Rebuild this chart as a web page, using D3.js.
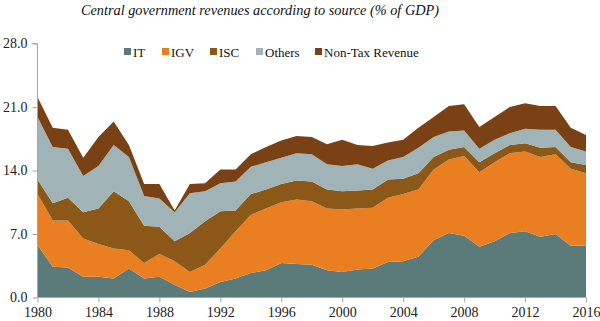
<!DOCTYPE html>
<html>
<head>
<meta charset="utf-8">
<script src="https://cdn.jsdelivr.net/npm/d3@7"></script>
<style>
  html, body { margin: 0; padding: 0; background: #fff; }
  svg { display: block; }
  text { font-family: "Liberation Serif", "Times New Roman", Tinos, "DejaVu Serif", serif; }
  .axis text { font-size: 14px; fill: #222; }
</style>
</head>
<body>
<svg id="chart" width="600" height="321"></svg>
<script>
// Central government revenues by source, % of GDP
const years = d3.range(1980, 2017);

const it = [5.8, 3.4, 3.3, 2.3, 2.3, 2.1, 3.2, 2.1, 2.3, 1.4,
            0.6, 1.0, 1.7, 2.1, 2.7, 3.0, 3.8, 3.7, 3.6, 3.0,
            2.8, 3.1, 3.2, 3.9, 4.0, 4.5, 6.3, 7.1, 6.8, 5.6,
            6.2, 7.1, 7.3, 6.7, 7.0, 5.7, 5.7];
const igv = [5.6, 5.1, 5.2, 4.2, 3.6, 3.3, 2.0, 1.7, 2.5, 2.6,
             2.2, 2.6, 3.7, 5.2, 6.4, 6.8, 6.7, 7.1, 7.0, 6.8,
             6.9, 6.7, 6.7, 7.1, 7.4, 7.4, 7.8, 8.1, 8.8, 8.2,
             8.7, 8.8, 8.8, 8.8, 8.8, 8.5, 8.0];
const isc = [1.6, 1.9, 2.5, 2.9, 3.9, 6.3, 5.4, 4.1, 3.0, 2.2,
             4.3, 4.8, 4.1, 2.3, 2.3, 2.1, 2.0, 2.1, 2.2, 2.1,
             2.0, 2.0, 2.0, 2.0, 1.7, 1.8, 1.4, 1.1, 1.0, 1.1,
             1.0, 0.9, 0.9, 1.0, 0.8, 0.7, 0.9];
const others = [6.9, 6.2, 5.4, 4.0, 4.7, 5.1, 4.9, 3.3, 3.1, 3.2,
                4.4, 3.3, 3.1, 3.2, 3.0, 3.0, 2.9, 3.0, 3.0, 2.8,
                2.8, 2.9, 2.3, 2.1, 2.4, 2.8, 2.2, 2.0, 1.8, 1.5,
                1.5, 1.3, 1.6, 2.0, 1.9, 1.7, 1.5];
const nonTax = [2.2, 2.1, 2.1, 2.0, 3.2, 2.6, 1.3, 1.3, 1.6, 0.2,
                1.0, 0.9, 1.5, 1.3, 1.4, 1.7, 1.9, 1.9, 1.9, 2.2,
                2.9, 2.1, 2.5, 2.0, 1.9, 2.2, 2.2, 2.8, 2.9, 2.4,
                2.5, 2.9, 2.8, 2.6, 2.6, 2.1, 1.8];

const seriesNames = ["IT", "IGV", "ISC", "Others", "Non-Tax Revenue"];
const seriesValues = [it, igv, isc, others, nonTax];
const colors = ["#5b7b7b", "#ea7f21", "#8c5818", "#a0b4b7", "#7a4214"];

const yTicks = [0, 7, 14, 21, 28];
const xTicks = d3.range(1980, 2017, 4);

const rows = years.map((yr, i) => {
  const r = { year: yr };
  seriesNames.forEach((n, k) => { r[n] = seriesValues[k][i]; });
  return r;
});

const svg = d3.select("#chart");
const margin = { left: 37.5, right: 14, top: 43.5, bottom: 23.5 };
const W = 600, H = 321;

const x = d3.scaleLinear().domain([1980, 2016]).range([margin.left, W - margin.right]);
const y = d3.scaleLinear().domain([0, 28]).range([H - margin.bottom, margin.top]);

const layers = d3.stack().keys(seriesNames)(rows);

const area = d3.area()
  .x(d => x(d.data.year))
  .y0(d => y(d[0]))
  .y1(d => y(d[1]));

svg.append("g")
  .selectAll("path")
  .data(layers)
  .join("path")
  .attr("fill", (d, i) => colors[i])
  .attr("d", area);

// Y axis
const yAxis = svg.append("g")
  .attr("class", "axis")
  .attr("transform", `translate(${margin.left},0)`)
  .call(d3.axisLeft(y).tickValues(yTicks).tickFormat(d3.format(".1f")).tickSize(5).tickPadding(5));
yAxis.attr("font-family", null);
yAxis.selectAll("path, line").attr("stroke", "#a6a6a6");
yAxis.select(".domain").attr("d", `M-5,${y(28)}H0V${y(0)}`);

// X axis
const xAxis = svg.append("g")
  .attr("class", "axis")
  .attr("transform", `translate(0,${y(0)})`)
  .call(d3.axisBottom(x).tickValues(xTicks).tickFormat(d3.format("d")).tickSize(5).tickPadding(5));
xAxis.attr("font-family", null);
xAxis.selectAll("path, line").attr("stroke", "#a6a6a6");
xAxis.select(".domain").attr("d", `M${x(1980)},0H${x(2016)}`);

// Title
svg.append("text")
  .attr("x", 260)
  .attr("y", 15)
  .attr("text-anchor", "middle")
  .attr("font-style", "italic")
  .attr("font-size", 14.3)
  .attr("fill", "#111")
  .text("Central government revenues according to source (% of GDP)");

// Legend
const legendX = [124, 162, 210, 256, 315];
const legend = svg.append("g");
seriesNames.forEach((n, i) => {
  const g = legend.append("g").attr("transform", `translate(${legendX[i]},52)`);
  g.append("rect").attr("x", 0).attr("y", -4).attr("width", 7).attr("height", 7).attr("fill", colors[i]);
  g.append("text")
    .attr("x", 9)
    .attr("y", 4.5)
    .attr("font-size", 13)
    .attr("fill", "#111")
    .text(n);
});
</script>
</body>
</html>
